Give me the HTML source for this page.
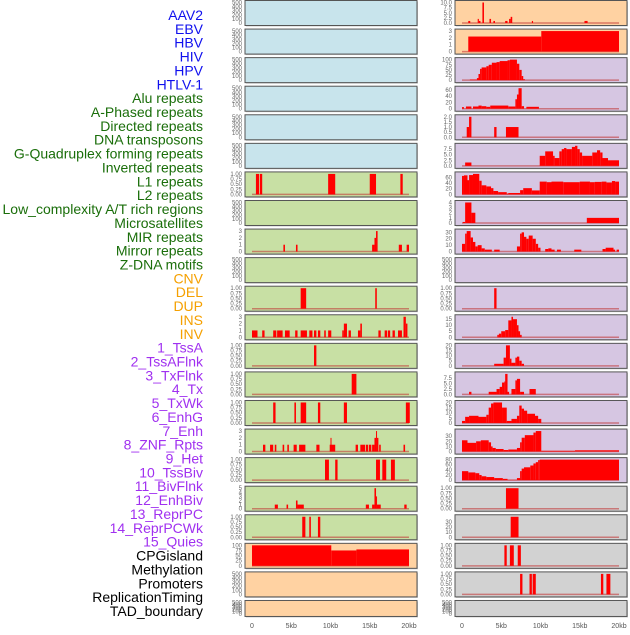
<!DOCTYPE html>
<html><head><meta charset="utf-8"><style>
html,body{margin:0;padding:0;background:#fff;}
body{width:630px;height:630px;overflow:hidden;font-family:"Liberation Sans",sans-serif;}
</style></head><body>
<svg id="chart" width="630" height="630" xmlns="http://www.w3.org/2000/svg" font-family="Liberation Sans, sans-serif"></svg>
<script>
// ---- labels ----
const labels = ["AAV2","EBV","HBV","HIV","HPV","HTLV-1","Alu repeats","A-Phased repeats","Directed repeats","DNA transposons","G-Quadruplex forming repeats","Inverted repeats","L1 repeats","L2 repeats","Low_complexity A/T rich regions","Microsatellites","MIR repeats","Mirror repeats","Z-DNA motifs","CNV","DEL","DUP","INS","INV","1_TssA","2_TssAFlnk","3_TxFlnk","4_Tx","5_TxWk","6_EnhG","7_Enh","8_ZNF_Rpts","9_Het","10_TssBiv","11_BivFlnk","12_EnhBiv","13_ReprPC","14_ReprPCWk","15_Quies","CPGisland","Methylation","Promoters","ReplicationTiming","TAD_boundary"];
const labelGroups = [6,13,5,15,5];
const groupColors = ["#1010ee","#1a6e0a","#f5a000","#a030f0","#000000"];
const xTickKb = [0,5,10,15,20];
const xTickLabels = ["0","5kb","10kb","15kb","20kb"];

// ---- tick sets ----
const T500 = [0,100,200,300,400,500];
const T1 = [0,0.25,0.5,0.75,1.0];
const T1L = ["0.00","0.25","0.50","0.75","1.00"];

// ---- series segments: [startKb, endKb, value] ----
const R_AAV2 = [[0.8,1.05,1],[2.0,2.15,2],[2.15,2.35,1],[2.6,2.8,10],[3.5,3.7,2],[4.0,4.2,1],[5.5,5.8,1],[6.0,6.2,2],[6.2,6.4,3],[8.9,9.05,1],[15.6,16.0,1]];
const R_EBV = [[0.8,10.1,2.2],[10.1,20,3]];
const R_HIV = [[1.0,1.9,3],[1.9,2.1,10],[2.1,2.3,30],[2.3,2.5,55],[2.5,3.1,62],[3.1,3.4,68],[3.4,3.8,75],[3.8,4.4,85],[4.4,4.8,88],[4.8,5.8,93],[5.8,6.1,97],[6.1,7.0,100],[7.0,7.3,80],[7.3,7.6,50],[7.6,7.8,20],[7.8,8.0,5]];
const R_ALU = [[0,0.25,5],[0.5,1.2,7],[1.4,2.1,7],[2.1,2.5,10],[2.5,3.1,8],[3.1,3.6,6],[3.6,5.9,10],[5.9,6.8,7],[6.8,7.0,30],[7.0,7.2,45],[7.2,7.6,65],[7.6,7.9,8],[8.2,9.8,6]];
const R_DIR = [[0.6,0.9,1],[0.9,1.2,2],[4.1,4.4,1],[5.6,7.2,1]];
const R_DNA = [[0.4,1.2,1.5],[9.9,10.6,4.5],[10.6,11.6,6.5],[11.6,11.8,4.5],[11.8,12.4,3.5],[12.4,12.7,6.5],[12.7,13.0,7.5],[13.0,13.3,8],[13.3,14.0,7.5],[14.0,14.4,8.5],[14.4,14.7,9],[14.7,15.0,7.5],[15.0,15.3,6],[15.3,16.6,4.5],[16.6,17.2,6],[17.2,17.6,7],[17.6,17.9,6],[17.9,18.6,3.5],[18.6,20,2.5]];
const R_L1 = [[0,0.25,65],[0.25,0.7,67],[0.7,0.9,50],[0.9,1.4,68],[1.4,2.2,72],[2.2,2.5,48],[2.5,3.1,32],[3.1,3.7,28],[3.7,4.0,22],[4.0,4.6,12],[4.6,5.7,8],[5.7,5.9,3],[5.9,7.4,5],[7.4,7.8,15],[7.8,8.9,22],[8.9,9.9,14],[9.9,10.8,45],[10.8,11.4,43],[11.4,12.9,45],[12.9,15.0,43],[15.0,16.3,45],[16.3,16.9,43],[16.9,17.8,44],[17.8,18.4,45],[18.4,19.1,42],[19.1,19.5,47],[19.5,20,45]];
const R_L2 = [[0.1,0.4,0.2],[0.4,1.2,4],[1.2,1.7,2],[15.9,20,1]];
const R_MIR = [[0,0.4,12],[0.4,0.6,28],[0.6,1.1,32],[1.1,1.4,22],[1.4,1.7,15],[1.7,2.0,8],[2.0,2.5,10],[2.5,2.9,5],[2.9,3.8,3],[4.1,4.8,3],[7.0,7.4,8],[7.4,7.6,28],[7.6,7.9,30],[7.9,8.2,23],[8.2,8.5,20],[8.5,9.0,25],[9.0,9.4,20],[9.4,9.7,12],[9.7,10.0,6],[10.6,11.0,4],[11.0,11.4,5],[11.4,11.8,3],[12.1,12.6,3],[14.3,15.2,3],[17.9,18.3,4],[18.3,19.3,6],[19.3,19.5,3],[19.7,20,3]];
const R_DEL = [[4.1,4.4,1]];
const R_INS = [[4.5,4.7,2],[4.7,5.0,3],[5.0,5.5,5],[5.5,5.9,6],[5.9,6.3,14],[6.3,6.5,17],[6.5,7.0,15],[7.0,7.2,10],[7.2,7.4,5],[7.4,7.6,2]];
const R_TSS = [[4.1,5.3,2],[5.3,5.6,8],[5.6,6.1,20],[6.1,6.3,7],[6.3,6.8,3],[6.8,7.0,8],[7.0,7.3,9],[7.3,7.6,5],[7.6,7.9,2]];
const R_TX = [[0.9,1.2,1.2],[3.4,4.4,1.2],[4.4,4.8,2.5],[4.8,5.1,3.5],[5.1,5.4,5.5],[5.4,5.5,6],[5.5,5.8,9.5],[5.8,6.0,1.2],[6.3,6.8,2.5],[6.8,7.0,6.5],[7.0,7.4,7.2],[7.4,7.9,1.2],[8.6,9.4,2.5]];
const R_TXWK = [[0,0.4,2],[0.4,0.9,6],[0.9,2.1,7],[2.1,3.1,6],[3.1,3.4,8],[3.4,3.7,15],[3.7,4.0,19],[4.0,5.1,20],[5.1,5.7,15],[5.7,6.3,2],[6.3,7.0,4],[7.0,7.3,7],[7.3,7.6,17],[7.6,7.9,14],[7.9,8.3,12],[8.3,9.3,9],[9.3,9.7,7],[9.7,10.1,4]];
const R_ENH = [[0,0.7,22],[0.7,1.8,17],[1.8,2.4,20],[2.4,3.4,22],[3.4,3.7,18],[3.7,3.9,10],[3.9,4.3,7],[4.3,5.3,5],[5.3,5.9,3],[5.9,7.0,4],[7.0,7.4,7],[7.4,7.6,18],[7.6,8.0,27],[8.0,9.1,32],[9.1,9.4,37],[9.4,10.1,40],[10.1,14.4,1.5],[14.4,20,2.5]];
const R_HET = [[0,0.8,35],[0.8,1.7,30],[1.7,2.2,27],[2.2,2.5,20],[2.5,3.1,15],[3.1,4.1,12],[4.1,5.2,8],[5.2,5.8,5],[5.8,7.0,1],[7.0,7.4,8],[7.4,7.6,35],[7.6,7.9,45],[7.9,8.7,50],[8.7,9.1,57],[9.1,9.4,65],[9.4,9.7,70],[9.7,9.9,78],[9.9,20,80]];
const R_BIV = [[5.6,7.2,1]];
const R_REPR = [[6.2,7.2,40]];
const R_CPG = [[5.4,5.7,1],[6.1,6.6,1],[7.1,7.5,1]];
const R_METH = [[7.4,7.7,1],[8.6,8.9,1],[9.0,9.4,1],[17.7,18.0,1],[18.4,18.9,1]];

const L_L1 = [[0.5,0.9,1],[1.0,1.3,1],[9.7,10.6,1],[15.0,15.8,1],[18.9,19.2,1]];
const L_MIR = [[4.0,4.2,1],[5.6,5.8,1],[15.3,15.6,1],[15.6,15.8,2],[15.8,16.0,3],[18.7,19.1,1],[19.7,20,1]];
const L_DEL = [[6.2,6.9,1],[15.7,15.9,1]];
const L_INS = [[0,0.7,1],[1.3,1.6,1],[2.7,3.1,1],[3.2,3.9,1],[4.2,4.8,1],[5.5,5.8,1],[6.2,7.0,1],[7.3,7.7,1],[7.9,8.2,1],[8.4,8.7,1],[9.2,9.4,1],[9.7,10.1,1],[11.5,11.7,1],[11.7,12.1,2],[12.3,12.6,1],[13.5,13.8,1],[13.8,14.0,2],[16.1,16.4,1],[16.9,17.2,1],[17.3,17.6,1],[17.9,18.2,1],[18.6,19.1,1],[19.3,19.6,3],[19.6,19.8,2]];
const L_TSS = [[7.9,8.2,1]];
const L_TX = [[12.7,13.3,1]];
const L_TXWK = [[2.7,3.0,1],[5.4,5.6,1],[6.2,6.9,1],[8.4,8.7,1],[11.7,12.1,1],[19.6,20.1,1]];
const L_ENH = [[1.4,1.7,1],[2.3,2.7,1],[2.9,3.1,1],[3.9,4.1,1],[4.5,4.7,1],[5.3,5.7,1],[6.0,6.8,1],[8.2,8.6,1],[9.9,10.0,1],[10.0,10.1,2],[10.1,10.6,1],[13.2,13.5,1],[13.8,14.4,1],[14.5,14.8,1],[14.9,15.2,1],[15.3,15.6,1],[15.6,15.8,2],[15.8,15.9,3],[15.9,16.1,2],[16.2,16.4,1],[19.3,19.5,1]];
const L_HET = [[9.3,9.8,1],[10.6,10.9,1],[15.8,16.3,1],[16.6,17.1,1],[17.7,18.2,1]];
const L_BIV = [[2.9,3.3,1],[4.4,4.6,1],[5.6,5.8,2],[5.8,6.6,1],[14.5,14.9,1],[15.3,15.6,1],[15.6,15.8,5],[15.8,15.9,3],[15.9,16.4,1],[19.4,19.7,1]];
const L_REPR = [[6.4,6.8,1],[7.3,7.5,1],[8.4,8.7,1]];
const L_CPG = [[0,10.1,100],[10.1,13.3,75],[13.3,20,80]];

// ---- panel definitions ----
const BLUE="#c8e4ec", GREEN="#c8e0a4", ORANGE="#ffd2a2", PURPLE="#d6c6e2", GRAY="#d2d2d2";
const rowsDef = [
 [{bg:BLUE,t:T500},{bg:ORANGE,t:[0,2.5,5,7.5,10],tl:["0.0","2.5","5.0","7.5","10.0"],s:R_AAV2}],
 [{bg:BLUE,t:T500},{bg:ORANGE,t:[0,1,2,3],s:R_EBV}],
 [{bg:BLUE,t:T500},{bg:PURPLE,t:[0,25,50,75,100],s:R_HIV}],
 [{bg:BLUE,t:T500},{bg:PURPLE,t:[0,20,40,60],max:65,s:R_ALU}],
 [{bg:BLUE,t:T500},{bg:PURPLE,t:[0,0.5,1,1.5,2],tl:["0.0","0.5","1.0","1.5","2.0"],s:R_DIR}],
 [{bg:BLUE,t:T500},{bg:PURPLE,t:[0,2.5,5,7.5],tl:["0.0","2.5","5.0","7.5"],max:9.2,s:R_DNA}],
 [{bg:GREEN,t:T1,tl:T1L,s:L_L1},{bg:PURPLE,t:[0,20,40,60],max:72,s:R_L1}],
 [{bg:GREEN,t:T500},{bg:PURPLE,t:[0,1,2,3,4],s:R_L2}],
 [{bg:GREEN,t:[0,1,2,3],s:L_MIR},{bg:PURPLE,t:[0,10,20,30],max:32,s:R_MIR}],
 [{bg:GREEN,t:T500},{bg:PURPLE,t:T500}],
 [{bg:GREEN,t:T1,tl:T1L,s:L_DEL},{bg:PURPLE,t:T1,tl:T1L,s:R_DEL}],
 [{bg:GREEN,t:[0,1,2,3],s:L_INS},{bg:PURPLE,t:[0,5,10,15],max:17,s:R_INS}],
 [{bg:GREEN,t:T1,tl:T1L,s:L_TSS},{bg:PURPLE,t:[0,5,10,15,20],s:R_TSS}],
 [{bg:GREEN,t:T1,tl:T1L,s:L_TX},{bg:PURPLE,t:[0,2.5,5,7.5],tl:["0.0","2.5","5.0","7.5"],max:9.5,s:R_TX}],
 [{bg:GREEN,t:T1,tl:T1L,s:L_TXWK},{bg:PURPLE,t:[0,5,10,15,20],s:R_TXWK}],
 [{bg:GREEN,t:[0,1,2,3],s:L_ENH},{bg:PURPLE,t:[0,10,20,30],max:40,s:R_ENH}],
 [{bg:GREEN,t:T1,tl:T1L,s:L_HET},{bg:PURPLE,t:[0,20,40,60,80],s:R_HET}],
 [{bg:GREEN,t:[0,1,2,3,4,5],s:L_BIV},{bg:GRAY,t:T1,tl:T1L,s:R_BIV}],
 [{bg:GREEN,t:T1,tl:T1L,s:L_REPR},{bg:GRAY,t:[0,10,20,30],max:40,s:R_REPR}],
 [{bg:ORANGE,t:[0,25,50,75,100],s:L_CPG},{bg:GRAY,t:T1,tl:T1L,s:R_CPG}],
 [{bg:ORANGE,t:T500},{bg:GRAY,t:T1,tl:T1L,s:R_METH}],
 [{bg:ORANGE,t:T500},{bg:GRAY,t:T500}]
];

const NS="http://www.w3.org/2000/svg";
const svg=document.getElementById('chart');
function mk(tag,attrs,parent){const e=document.createElementNS(NS,tag);for(const k in attrs)e.setAttribute(k,attrs[k]);(parent||svg).appendChild(e);return e;}

// labels
let li=0;
labelGroups.forEach((n,g)=>{for(let i=0;i<n;i++){
  const t=mk('text',{x:203,y:15+li*13.86+5,'text-anchor':'end','font-size':'14',fill:groupColors[g]});
  t.textContent=labels[li];
  
  
  li++;}});

const cols=[{x0:245,x1:417,d0:252,d1:409},{x0:455,x1:627,d0:462,d1:619}];
rowsDef.forEach((row,ri)=>{
  const top=ri*28.57+0.5;
  const h=ri===21?16:25;
  row.forEach((p,ci)=>{
    const c=cols[ci];
    const xs=kb=>c.d0+(c.d1-c.d0)*kb/20;
    const g=mk('g',{});
    
    
    mk('rect',{x:c.x0+1,y:top+1,width:c.x1-c.x0,height:h,fill:'#999','opacity':0.5},g);
    mk('rect',{x:c.x0,y:top,width:c.x1-c.x0,height:h,fill:p.bg,stroke:'#555','stroke-width':1},g);
    const ymax=p.max||p.t[p.t.length-1];
    const yb=top+h-2.5, yt=top+2;
    const ys=v=>yb-(yb-yt)*v/ymax;
    p.t.forEach((tv,ti)=>{
      const t=mk('text',{x:c.x0-3,y:ys(tv)+2,'text-anchor':'end','font-size':'6',fill:'#666'},g);
      t.textContent=p.tl?p.tl[ti]:String(tv);
      
      
    });
    if(p.s){
      mk('line',{x1:xs(0),x2:xs(20),y1:yb,y2:yb,stroke:'#c03030','stroke-width':1.5,opacity:0.55},g);
      p.s.forEach(s=>{
        const r=mk('rect',{x:xs(s[0]),y:ys(s[2]),width:Math.max(1,xs(s[1])-xs(s[0])),height:yb-ys(s[2]),fill:'#ff0000'},g);
        
        
      });
    }
  });
});
// x axes
cols.forEach((c,ci)=>{
  xTickKb.forEach((k,i)=>{
    const t=mk('text',{x:c.d0+(c.d1-c.d0)*k/20,y:628,'text-anchor':'middle','font-size':'7',fill:'#555'});
    t.textContent=xTickLabels[i];
    
    
  });
});
</script>
</body></html>
